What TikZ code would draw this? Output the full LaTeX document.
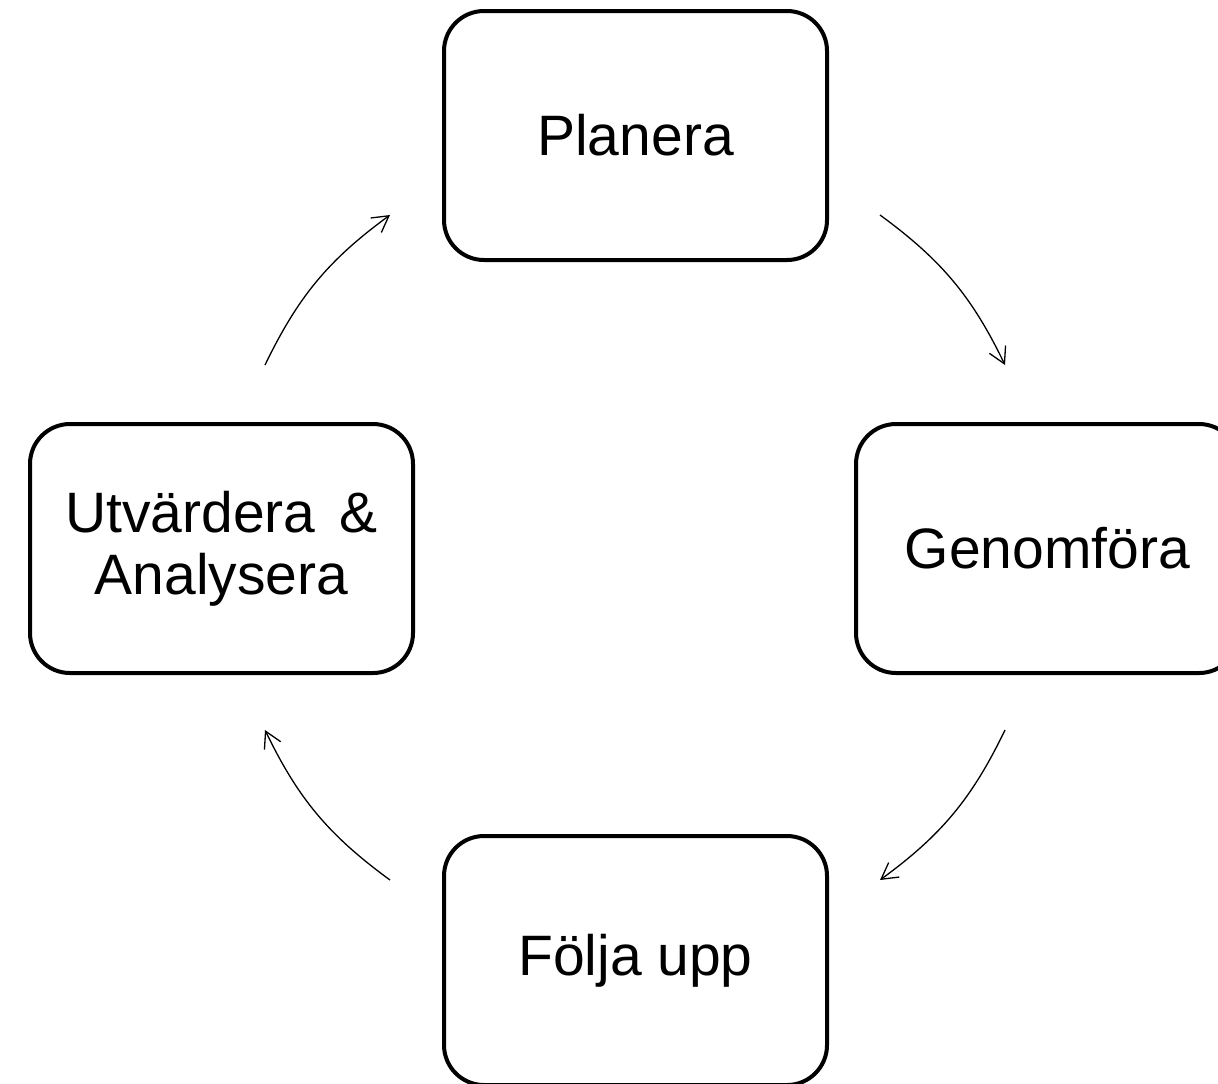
\documentclass[tikz,border=0pt]{standalone}
\usepackage{fontspec}
\setmainfont{Liberation Sans}
\usetikzlibrary{positioning,arrows.meta}

\begin{document}
\begin{tikzpicture}[x = .5pt, y = .5pt,
    stepbox/.style = { draw, align = center, rounded corners = 20pt, line width = 2pt,
      minimum width = 191.5pt, minimum height = 124.5pt,
      font = \fontsize{28.5}{31}\selectfont },
    flow/.style = { -{Straight Barb[length = 8pt, width = 9pt]}, line width = .65pt, bend left = 14 }]
  \useasboundingbox (0,0) rectangle (1218,-1083);
  \node [stepbox] (planera) at (635.5,-135.5) {Planera};
  \node [stepbox] (genomfora) at (1047.5,-548.5) {Genomföra};
  \node [stepbox] (folja) at (635.5,-960.5) {Följa upp};
  \node [stepbox] (utvardera) at (221.5,-548.5) {Utvärdera\hspace{.42em}\&\\Analysera};
  % ends of the arrows
  \coordinate (p1) at (880,-215);  \coordinate (g1) at (1005,-365);
  \coordinate (g2) at (1005,-730); \coordinate (f1) at (880,-880);
  \coordinate (f2) at (390,-880);  \coordinate (u1) at (265,-730);
  \coordinate (u2) at (265,-365);  \coordinate (p2) at (390,-215);
  \draw [flow] (p1) to (g1);
  \draw [flow] (g2) to (f1);
  \draw [flow] (f2) to (u1);
  \draw [flow] (u2) to (p2);
\end{tikzpicture}
\end{document}
